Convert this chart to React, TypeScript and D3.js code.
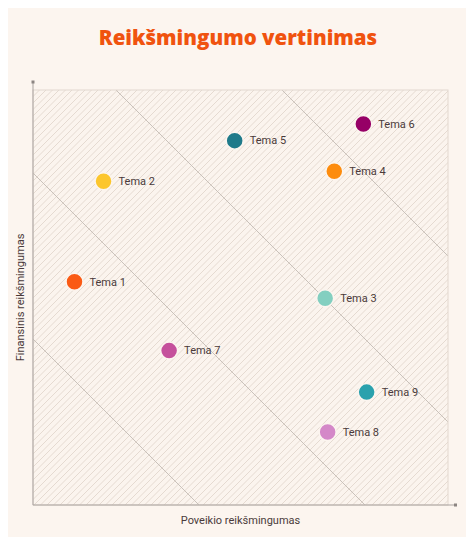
import React from "react";
import * as d3 from "d3";

const topics = ["Tema 1", "Tema 2", "Tema 3", "Tema 4", "Tema 5", "Tema 6", "Tema 7", "Tema 8", "Tema 9"];
const impactValues = [0.5, 0.85, 3.52, 3.63, 2.43, 3.98, 1.64, 3.55, 4.02];
const financialValues = [2.69, 3.9, 2.49, 4.02, 4.39, 4.59, 1.86, 0.88, 1.36];
const topicColors = ["#fa5a14", "#fcc62d", "#83cfc0", "#fd8c0e", "#1f7a8a", "#960066", "#c5509c", "#d488c8", "#2aa1ad"];
const thresholds = [2, 4, 6, 8];
const domainMax = 5;

const title = "Reikšmingumo vertinimas";
const xLabel = "Poveikio reikšmingumas";
const yLabel = "Finansinis reikšmingumas";

export default function App() {
  const W = 474, H = 545;
  const L = 33, T = 90, R = 448, B = 505;
  const x = d3.scaleLinear().domain([0, domainMax]).range([L, R]);
  const y = d3.scaleLinear().domain([0, domainMax]).range([B, T]);

  const seg = (c: number) => {
    const x0 = Math.max(0, c - domainMax);
    const x1 = Math.min(domainMax, c);
    return [[x0, c - x0], [x1, c - x1]];
  };
  const line = d3.line<number[]>().x((d) => x(d[0])).y((d) => y(d[1]));

  const size = B - T;
  const hatchStarts = d3.range(L - size, R + 1, 6.5);

  return (
    <div style={{ margin: -8, width: W, height: H, background: "#ffffff" }}>
      <svg width={W} height={H} style={{ display: "block" }}>
        <defs>
          <clipPath id="plotClip">
            <rect x={L} y={T} width={R - L} height={B - T} />
          </clipPath>
        </defs>
        <rect x={0} y={0} width={472} height={540} fill="#fcf5ef" />
        <text x={W / 2 + 1} y={45} textAnchor="middle" fontFamily="'Open Sans', sans-serif" fontWeight={800} fontSize={20.5} fill="#f0530f">
          {title}
        </text>
        <rect x={L} y={T} width={R - L} height={B - T} fill="#fbf4ee" />
        <g clipPath="url(#plotClip)">
          {hatchStarts.map((s) => (
            <line key={s} x1={s} y1={B} x2={s + size} y2={T} stroke="#e2d7cd" strokeWidth={0.9} />
          ))}
          {thresholds.map((c) => (
            <path key={c} d={line(seg(c)) || ""} fill="none" stroke="#c9c1ba" strokeWidth={1} />
          ))}
        </g>
        <rect x={L} y={T} width={R - L} height={B - T} fill="none" stroke="#e2d8cf" strokeWidth={1} />
        <line x1={L} y1={B} x2={L} y2={T - 8} stroke="#a9a3a0" strokeWidth={1} />
        <rect x={L - 1.5} y={T - 9.5} width={3} height={3} fill="#8c8582" />
        <line x1={L} y1={B} x2={R + 7} y2={B} stroke="#a9a3a0" strokeWidth={1} />
        <rect x={R + 6} y={B - 1.5} width={3} height={3} fill="#8c8582" />
        {topics.map((t, i) => (
          <g key={t}>
            <circle cx={x(impactValues[i])} cy={y(financialValues[i])} r={8.5} fill={topicColors[i]} stroke="#fcf5ef" strokeWidth={1.5} />
            <text x={x(impactValues[i]) + 15} y={y(financialValues[i])} dy="0.35em" fontFamily="Roboto, sans-serif" fontSize={11} fill="#4a3a3a">
              {t}
            </text>
          </g>
        ))}
        <text x={(L + R) / 2} y={524} textAnchor="middle" fontFamily="Roboto, sans-serif" fontSize={11} fill="#4a3a3a">
          {xLabel}
        </text>
        <text transform={`translate(24, ${(T + B) / 2}) rotate(-90)`} textAnchor="middle" fontFamily="Roboto, sans-serif" fontSize={11} fill="#4a3a3a">
          {yLabel}
        </text>
      </svg>
    </div>
  );
}
